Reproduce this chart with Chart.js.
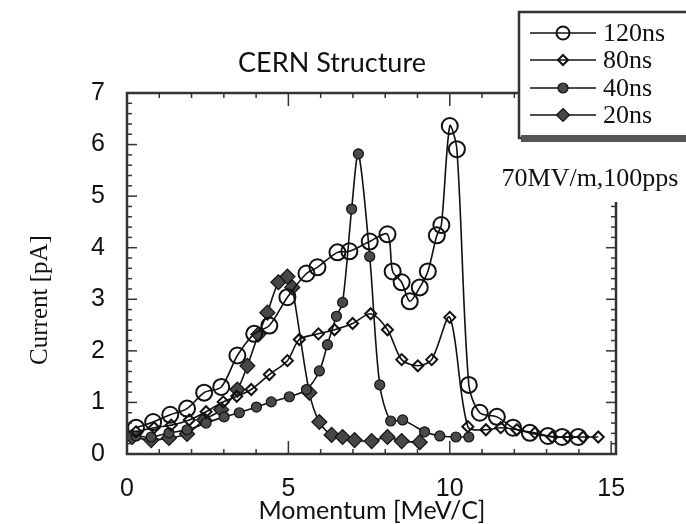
<!DOCTYPE html>
<html>
<head>
<meta charset="utf-8">
<script src="https://cdn.jsdelivr.net/npm/chart.js@4/dist/chart.umd.min.js"></script>
<style>body{margin:0;background:#fff}</style>
</head>
<body>
<canvas id="myChart" width="686" height="524"></canvas>
<script>
// momentum [MeV/c] and current [pA]
var mom120 = [0.28, 0.81, 1.34, 1.86, 2.39, 2.92, 3.42, 3.94, 4.41, 4.97, 5.56, 5.9, 6.52, 6.89, 7.52, 8.07, 8.23, 8.51, 8.76, 9.07, 9.32, 9.6, 9.74, 10.0, 10.22, 10.59, 10.93, 11.46, 11.96, 12.48, 13.04, 13.48, 13.98];
var cur120 = [0.51, 0.62, 0.76, 0.88, 1.19, 1.3, 1.91, 2.33, 2.49, 3.04, 3.5, 3.62, 3.91, 3.93, 4.12, 4.26, 3.54, 3.33, 2.96, 3.23, 3.54, 4.24, 4.44, 6.36, 5.91, 1.34, 0.8, 0.72, 0.51, 0.41, 0.35, 0.33, 0.33];

var mom80 = [0.28, 0.84, 1.37, 1.93, 2.45, 2.98, 3.4, 3.85, 4.41, 4.97, 5.34, 5.93, 6.43, 6.99, 7.55, 8.07, 8.51, 9.01, 9.44, 10.0, 10.56, 11.12, 11.58, 12.08, 12.64, 13.17, 13.66, 14.13, 14.6];
var cur80 = [0.43, 0.51, 0.56, 0.66, 0.82, 1.01, 1.12, 1.25, 1.54, 1.81, 2.22, 2.33, 2.41, 2.53, 2.72, 2.41, 1.83, 1.71, 1.83, 2.65, 0.53, 0.47, 0.51, 0.47, 0.41, 0.33, 0.33, 0.33, 0.33];

var mom40 = [0.28, 0.75, 1.3, 1.86, 2.45, 3.01, 3.48, 4.01, 4.47, 5.03, 5.56, 5.96, 6.21, 6.49, 6.68, 6.96, 7.17, 7.52, 7.83, 8.17, 8.54, 9.22, 9.69, 10.19, 10.59];
var cur40 = [0.35, 0.33, 0.41, 0.47, 0.6, 0.72, 0.8, 0.91, 1.01, 1.11, 1.25, 1.61, 2.12, 2.67, 2.94, 4.75, 5.82, 3.83, 1.34, 0.64, 0.66, 0.43, 0.35, 0.33, 0.33];

var mom20 = [0.16, 0.75, 1.3, 1.86, 2.39, 2.92, 3.42, 3.73, 4.07, 4.35, 4.69, 4.97, 5.12, 5.65, 5.96, 6.34, 6.68, 7.05, 7.58, 8.07, 8.51, 9.07];
var cur20 = [0.33, 0.27, 0.31, 0.39, 0.66, 0.86, 1.25, 1.71, 2.32, 2.74, 3.33, 3.44, 3.23, 1.19, 0.62, 0.37, 0.33, 0.27, 0.25, 0.33, 0.25, 0.23];

var seriesNames = ['120ns', '80ns', '40ns', '20ns'];
var xTickLabels = [0, 5, 10, 15];
var yTickLabels = [0, 1, 2, 3, 4, 5, 6, 7];

function pts(xs, ys) {
    return xs.map(function (x, i) { return {x: x, y: ys[i]}; });
}

var styles = [
    {pointStyle: 'circle', radius: 8, bg: 'rgba(0,0,0,0)', bw: 2},
    {pointStyle: 'rectRot', radius: 5.5, bg: 'rgba(0,0,0,0)', bw: 2},
    {pointStyle: 'circle', radius: 5, bg: '#4a4a4a', bw: 1.2},
    {pointStyle: 'rectRot', radius: 7.5, bg: '#474747', bw: 1.2}
];
var seriesData = [pts(mom120, cur120), pts(mom80, cur80), pts(mom40, cur40), pts(mom20, cur20)];

var datasets = seriesNames.map(function (name, i) {
    return {
        label: name,
        data: seriesData[i],
        showLine: true,
        tension: 0.3,
        borderColor: '#111',
        borderWidth: 1.6,
        pointStyle: styles[i].pointStyle,
        pointRadius: styles[i].radius,
        pointBackgroundColor: styles[i].bg,
        pointBorderColor: '#111',
        pointBorderWidth: styles[i].bw
    };
});

function marker(ctx, st, x, y, r) {
    ctx.beginPath();
    if (st.pointStyle === 'circle') {
        ctx.arc(x, y, r, 0, Math.PI * 2);
    } else {
        ctx.moveTo(x, y - r); ctx.lineTo(x + r, y); ctx.lineTo(x, y + r); ctx.lineTo(x - r, y); ctx.closePath();
    }
    ctx.fillStyle = st.bg; ctx.fill();
    ctx.lineWidth = st.bw; ctx.strokeStyle = '#111'; ctx.stroke();
}

// frame with inward ticks, legend box and text notes
var frame = {
    id: 'frame',
    afterDraw: function (chart) {
        var ctx = chart.ctx, a = chart.chartArea, sx = chart.scales.x, sy = chart.scales.y;
        ctx.save();
        ctx.strokeStyle = '#333';
        ctx.lineWidth = 1.5;
        function seg(x1, y1, x2, y2) { ctx.beginPath(); ctx.moveTo(x1, y1); ctx.lineTo(x2, y2); ctx.stroke(); }
        for (var v = 1; v <= 15; v++) {
            var px = sx.getPixelForValue(v), len = v % 5 === 0 ? 13 : 5;
            seg(px, a.bottom, px, a.bottom - len);
            seg(px, a.top, px, a.top + len);
        }
        for (var k = 1; k < 35; k++) {
            var py = sy.getPixelForValue(k / 5), l2 = k % 5 === 0 ? 10 : 5;
            seg(a.left, py, a.left + l2, py);
            seg(a.right, py, a.right - l2, py);
        }
        ctx.lineWidth = 2.5;
        ctx.strokeRect(a.left, a.top, a.right - a.left, a.bottom - a.top);

        // note beside the frame
        ctx.fillStyle = '#fff';
        ctx.fillRect(488, 140, 198, 62);
        ctx.fillStyle = '#111';
        ctx.font = '26px "Liberation Serif"';
        ctx.textAlign = 'center';
        ctx.textBaseline = 'middle';
        ctx.fillText('70MV/m,100pps', 590, 179);

        // legend
        ctx.fillStyle = '#fff';
        ctx.fillRect(519, 12, 167, 126);
        ctx.lineWidth = 2.5;
        ctx.strokeStyle = '#333';
        ctx.strokeRect(519, 12, 170, 126);
        ctx.fillStyle = '#555';
        ctx.fillRect(521, 135, 165, 7);
        var rows = [33, 60, 88, 115];
        var legR = [6.5, 5, 5, 6.5];
        seriesNames.forEach(function (name, i) {
            ctx.lineWidth = 1.6; ctx.strokeStyle = '#111';
            seg(530, rows[i], 596, rows[i]);
            marker(ctx, styles[i], 563, rows[i], legR[i]);
            ctx.fillStyle = '#111';
            ctx.font = '26px "Liberation Serif"';
            ctx.textAlign = 'left';
            ctx.textBaseline = 'middle';
            ctx.fillText(name, 603, rows[i] + 1);
        });

        // titles
        ctx.fillStyle = '#111';
        ctx.textAlign = 'center';
        ctx.textBaseline = 'middle';
        ctx.font = '27px Lato';
        ctx.fillText('CERN Structure', 332, 63);
        ctx.font = '25px Lato';
        ctx.fillText('Momentum [MeV/C]', 372, 511);
        ctx.save();
        ctx.translate(40, 300);
        ctx.rotate(-Math.PI / 2);
        ctx.font = '25px "Liberation Serif"';
        ctx.fillText('Current [pA]', 0, 0);
        ctx.restore();
        ctx.restore();
    }
};

var ctx = document.getElementById("myChart");
var myChart = new Chart(ctx, {
    type: 'scatter',
    data: {datasets: datasets},
    options: {
        responsive: false,
        animation: false,
        layout: {padding: {top: 93, right: 70, left: 0, bottom: 0}},
        plugins: {legend: {display: false}, tooltip: {enabled: false}},
        scales: {
            x: {
                type: 'linear', min: 0, max: 15.15,
                grid: {display: false, drawTicks: false},
                border: {display: false},
                afterFit: function (s) { s.height = 70; },
                afterBuildTicks: function (s) { s.ticks = xTickLabels.map(function (v) { return {value: v}; }); },
                ticks: {padding: 20, color: '#111', font: {family: 'Liberation Sans', size: 25}, maxRotation: 0}
            },
            y: {
                type: 'linear', min: 0, max: 7,
                grid: {display: false, drawTicks: false},
                border: {display: false},
                afterFit: function (s) { s.width = 127; },
                afterBuildTicks: function (s) { s.ticks = yTickLabels.map(function (v) { return {value: v}; }); },
                ticks: {padding: 22, color: '#111', font: {family: 'Liberation Sans', size: 25}}
            }
        }
    },
    plugins: [frame]
});
</script>
</body>
</html>
